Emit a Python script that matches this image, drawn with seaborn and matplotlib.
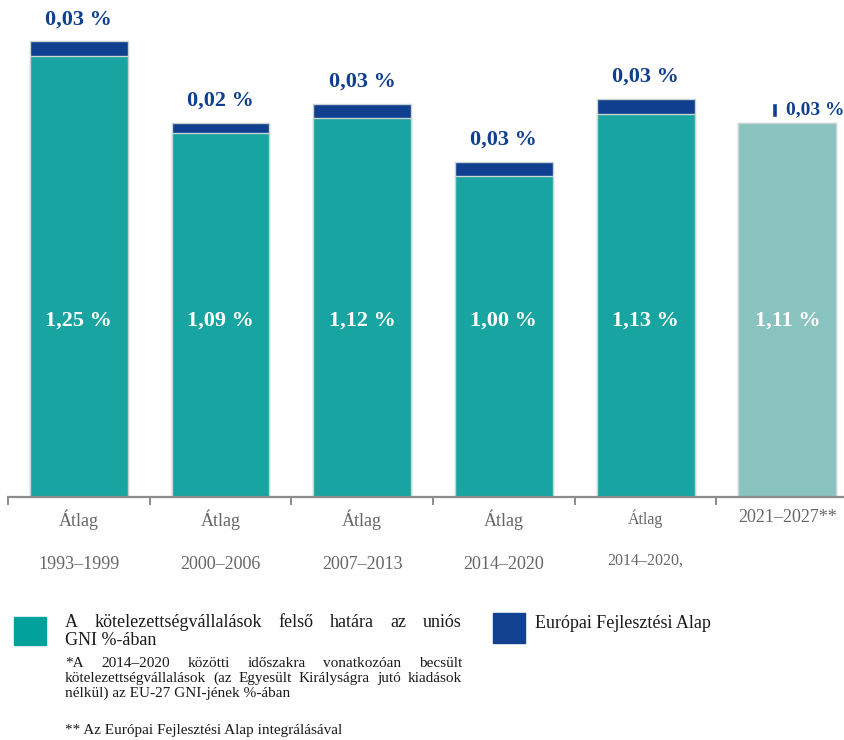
import matplotlib
matplotlib.use("Agg")
import matplotlib.pyplot as plt
import seaborn as sns
import pandas as pd
from matplotlib.patches import Rectangle

# adatok (az ábráról leolvasva)
periods = ["1993–1999", "2000–2006", "2007–2013", "2014–2020", "2014–2020,", "2021–2027**"]
prefix = ["Átlag", "Átlag", "Átlag", "Átlag", "Átlag", ""]
ceiling = [1.25, 1.09, 1.12, 1.00, 1.13, 1.11]
edf = [0.03, 0.02, 0.03, 0.03, 0.03, 0.03]
edf_integrated = [False, False, False, False, False, True]

legend_main = ["A kötelezettségvállalások felső határa az uniós", "GNI %-ában"]
legend_edf = "Európai Fejlesztési Alap"
notes = ["*A 2014–2020 közötti időszakra vonatkozóan becsült",
         "kötelezettségvállalások (az Egyesült Királyságra jutó kiadások",
         "nélkül) az EU-27 GNI-jének %-ában"]
note2 = "** Az Európai Fejlesztési Alap integrálásával"

teal = "#18A4A0"
teal_light = "#88C3C0"
navy = "#0F3F8E"
edge = "#c9d3d3"

sns.set_theme(style="white")
plt.rcParams["font.family"] = ["Liberation Serif", "DejaVu Serif"]

df = pd.DataFrame({"period": periods, "ceiling": ceiling, "edf": edf, "integ": edf_integrated})
df["top"] = df["ceiling"] + df["edf"].where(~df["integ"], 0)

W, H = 844, 740
fig = plt.figure(figsize=(W / 100, H / 100), dpi=100)
ax = fig.add_axes([8 / W, 1 - 497 / H, 836 / W, 497 / H])

# összesen (sötétkék sapka) + alap
sns.barplot(data=df, x="period", y="top", color=navy, width=0.69, errorbar=None,
            edgecolor=edge, linewidth=1, saturation=1, ax=ax)
sns.barplot(data=df, x="period", y="ceiling", hue="period",
            palette=[teal] * 5 + [teal_light], legend=False, width=0.69, errorbar=None,
            edgecolor=edge, linewidth=1, saturation=1, ax=ax)

ax.set_ylim(0.333, 1.366)
ax.set_xlim(-0.5, 5.4)
ax.set_xlabel("")
ax.set_ylabel("")
ax.set_yticks([])
for s in ["left", "top", "right"]:
    ax.spines[s].set_visible(False)
ax.spines["bottom"].set_color("#8c8c8c")
ax.spines["bottom"].set_linewidth(1.6)

ax.set_xticks(range(len(periods)))
ax.set_xticklabels([f"{p}\n\n{per}" if p else per for p, per in zip(prefix, periods)],
                   fontsize=13, color="#666666", linespacing=1.35)
ax.tick_params(axis="x", which="major", length=0, pad=9)
ax.set_xticks([i - 0.5 for i in range(len(periods))], minor=True)
ax.tick_params(axis="x", which="minor", length=6, width=1.4, color="#8c8c8c", bottom=True)
ax.get_xticklabels()[4].set_fontsize(11.5)


def pct(v):
    return f"{v:.2f}".replace(".", ",") + " %"


for i, row in df.iterrows():
    ax.text(i, 0.70, pct(row["ceiling"]), ha="center", va="center",
            color="white", fontsize=16, fontweight="bold")
    if row["integ"]:
        ax.bar(i - 0.09, row["edf"], bottom=row["ceiling"] + 0.012, width=0.035, color=navy)
        ax.text(i + 0.2, row["ceiling"] + 0.028, pct(row["edf"]), ha="center", va="center",
                color=navy, fontsize=14, fontweight="bold")
    else:
        ax.text(i, row["top"] + 0.046, pct(row["edf"]), ha="center", va="center",
                color=navy, fontsize=16, fontweight="bold")

# jelmagyarázat
fig.patches.append(Rectangle((14 / W, 1 - 645 / H), 32 / W, 28 / H,
                             transform=fig.transFigure, color="#00A29B"))
fig.patches.append(Rectangle((493 / W, 1 - 643 / H), 32 / W, 30 / H,
                             transform=fig.transFigure, color="#12418F"))

renderer = fig.canvas.get_renderer()


def justify(text, y, x0, x1, size):
    words = text.split(" ")
    arts = [fig.text(0, 1 - y / H, w, fontsize=size, va="baseline", color="#1a1a1a")
            for w in words]
    widths = [a.get_window_extent(renderer).width for a in arts]
    gap = max((x1 - x0 - sum(widths)) / (len(words) - 1), 3)
    x = x0
    for a, w in zip(arts, widths):
        a.set_x(x / W)
        x += w + gap


def line(text, x, y, size):
    fig.text(x / W, 1 - y / H, text, fontsize=size, va="baseline", color="#1a1a1a")


justify(legend_main[0], 627, 65, 462, 13)
line(legend_main[1], 65, 645, 13)
line(legend_edf, 535, 628, 13)
justify(notes[0], 667, 65, 462, 11)
justify(notes[1], 682, 65, 462, 11)
line(notes[2], 65, 697, 11)
line(note2, 65, 734, 11)

fig.savefig("out.png", dpi=100)
